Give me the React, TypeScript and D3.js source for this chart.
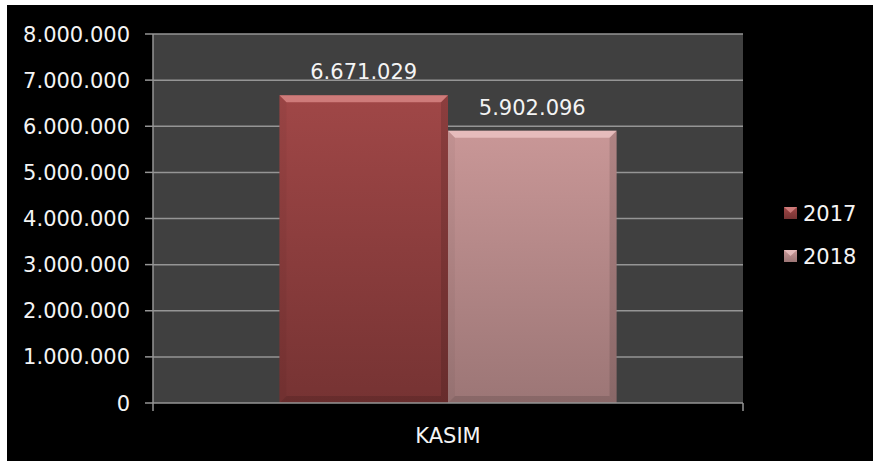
import React from 'react'
import * as d3 from 'd3'

const categories = ['KASIM']
const seriesNames = ['2017', '2018']
const values2017 = [6671029]
const values2018 = [5902096]
const yTicks = [0, 1000000, 2000000, 3000000, 4000000, 5000000, 6000000, 7000000, 8000000]

const seriesValues = [values2017, values2018]
const barTop = ['#a04747', '#c99797']
const barBottom = ['#763333', '#9c7676']
const bevelLight = ['#e39190', '#f2cccc']

const W = 873, H = 461
const plot = { left: 153, right: 743, top: 34, bottom: 403 }
const font = '"DejaVu Sans ExtraLight", "DejaVu Sans", sans-serif'

const trLocale = d3.formatLocale({ decimal: ',', thousands: '.', grouping: [3], currency: ['', ''] })
const fmt = trLocale.format(',d')

export default function App() {
  const y = d3.scaleLinear().domain([0, 8000000]).range([plot.bottom, plot.top])
  const x0 = d3.scaleBand().domain(categories).range([plot.left, plot.right])
    .paddingInner(0).paddingOuter(0.375)
  const x1 = d3.scaleBand().domain(seriesNames).range([0, x0.bandwidth()]).padding(0)

  const bev = 7

  return (
    <svg width={W} height={H} style={{ position: 'absolute', left: 0, top: 0 }}>
      <defs>
        {seriesNames.map((s, i) => (
          <linearGradient key={s} id={'g' + s} x1="0" y1="0" x2="0" y2="1">
            <stop offset="0" stopColor={barTop[i]} />
            <stop offset="1" stopColor={barBottom[i]} />
          </linearGradient>
        ))}
      </defs>
      <rect x={0} y={0} width={W} height={H} fill="#fff" />
      <rect x={7} y={5} width={W - 7} height={H - 5} fill="#000" />
      <rect x={plot.left} y={plot.top} width={plot.right - plot.left} height={plot.bottom - plot.top} fill="#404040" />

      {/* grid + y axis */}
      {yTicks.map(t => (
        <g key={t}>
          {t > 0 && <line x1={plot.left} x2={plot.right} y1={y(t)} y2={y(t)} stroke="#959595" strokeWidth={1.5} />}
          <line x1={plot.left - 8} x2={plot.left} y1={y(t)} y2={y(t)} stroke="#959595" strokeWidth={1.5} />
          <text x={130} y={y(t)} dy="0.36em" textAnchor="end" fill="#f4f4f4"
            fontFamily={font} fontSize={21}>{fmt(t)}</text>
        </g>
      ))}

      {/* bars */}
      {categories.map((c, ci) => (
        <g key={c} transform={`translate(${x0(c)},0)`}>
          {seriesNames.map((s, si) => {
            const v = seriesValues[si][ci]
            const bx = x1(s)!
            const bw = x1.bandwidth()
            const by = y(v)
            const bh = plot.bottom - by
            return (
              <g key={s}>
                <rect x={bx} y={by} width={bw} height={bh} fill={`url(#g${s})`} />
                <polygon points={`${bx},${by} ${bx + bw},${by} ${bx + bw - bev},${by + bev} ${bx + bev},${by + bev}`}
                  fill={bevelLight[si]} opacity={0.7} />
                <polygon points={`${bx},${by} ${bx + bev},${by + bev} ${bx + bev},${by + bh - bev} ${bx},${by + bh}`}
                  fill="#000" opacity={0.04} />
                <polygon points={`${bx + bw},${by} ${bx + bw - bev},${by + bev} ${bx + bw - bev},${by + bh - bev} ${bx + bw},${by + bh}`}
                  fill="#000" opacity={0.12} />
                <polygon points={`${bx},${by + bh} ${bx + bev},${by + bh - bev} ${bx + bw - bev},${by + bh - bev} ${bx + bw},${by + bh}`}
                  fill="#000" opacity={0.12} />
                <text x={bx + bw / 2} y={by - 16} textAnchor="middle" fill="#f4f4f4"
                  fontFamily={font} fontSize={21}>{fmt(v)}</text>
              </g>
            )
          })}
        </g>
      ))}

      {/* x axis */}
      <line x1={plot.left} x2={plot.right} y1={plot.bottom} y2={plot.bottom} stroke="#959595" strokeWidth={1.5} />
      <line x1={plot.left} x2={plot.left} y1={plot.top} y2={plot.bottom + 8} stroke="#959595" strokeWidth={1.5} />
      <line x1={plot.right} x2={plot.right} y1={plot.bottom} y2={plot.bottom + 8} stroke="#959595" strokeWidth={1.5} />
      {categories.map(c => (
        <text key={c} x={x0(c)! + x0.bandwidth() / 2} y={443} textAnchor="middle" fill="#f4f4f4"
          fontFamily={font} fontSize={21}>{c}</text>
      ))}

      {/* legend */}
      {seriesNames.map((s, i) => {
        const ly = 213 + i * 43
        return (
          <g key={s}>
            <rect x={784} y={ly - 6} width={13} height={12} fill={`url(#g${s})`} />
            <polygon points={`${784},${ly - 6} ${797},${ly - 6} ${790.5},${ly}`} fill={bevelLight[i]} opacity={0.7} />
            <text x={803} y={ly} dy="0.36em" fill="#f4f4f4" fontFamily={font} fontSize={21}>{s}</text>
          </g>
        )
      })}
    </svg>
  )
}
